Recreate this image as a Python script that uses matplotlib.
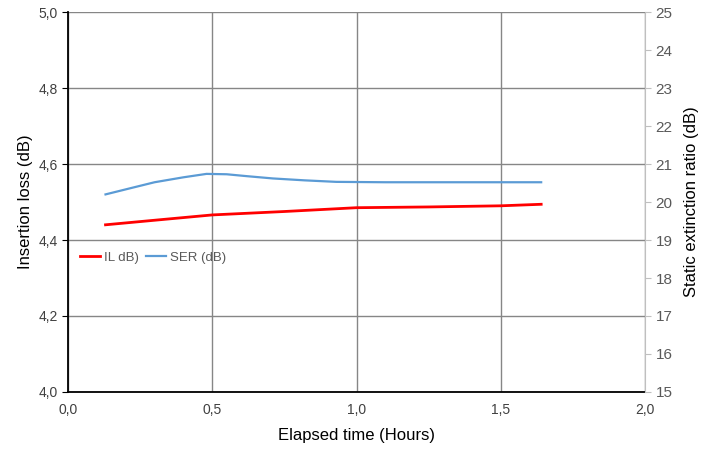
import matplotlib.pyplot as plt
from matplotlib.ticker import FuncFormatter

# IL series (left axis)
il_t = [0.13, 0.3, 0.5, 0.75, 1.0, 1.25, 1.5, 1.64]
il_db = [4.440, 4.452, 4.466, 4.475, 4.485, 4.487, 4.490, 4.494]

# SER series (right axis)
ser_t = [0.13, 0.22, 0.3, 0.4, 0.48, 0.55, 0.62, 0.71, 0.82, 0.93, 1.1, 1.3, 1.5, 1.64]
ser_db = [20.20, 20.37, 20.52, 20.65, 20.74, 20.73, 20.68, 20.62, 20.57, 20.53, 20.52, 20.52, 20.52, 20.52]

plt.rcParams['font.family'] = ['Liberation Sans', 'DejaVu Sans']

fig = plt.figure(figsize=(7.22, 4.5), dpi=100)
ax = fig.add_axes([0.0942, 0.1289, 0.7992, 0.8444])
ax2 = ax.twinx()

ax.plot(il_t, il_db, color='#ff0000', lw=2.0, label='IL dB)')
ax2.plot(ser_t, ser_db, color='#5b9bd5', lw=1.6, label='SER (dB)')

ax.set_xlim(0, 2.0)
ax.set_ylim(4.0, 5.0)
ax2.set_ylim(15, 25)
ax.set_xticks([0, 0.5, 1.0, 1.5, 2.0])
ax.set_yticks([4.0, 4.2, 4.4, 4.6, 4.8, 5.0])
ax2.set_yticks(range(15, 26))

comma = FuncFormatter(lambda v, p: f'{v:.1f}'.replace('.', ','))
ax.xaxis.set_major_formatter(comma)
ax.yaxis.set_major_formatter(comma)

ax.grid(True, color='#868686', lw=1.0)
ax.set_axisbelow(True)

for s in ['top', 'right']:
    ax.spines[s].set_visible(False)
for s in ['top', 'left', 'bottom']:
    ax2.spines[s].set_visible(False)
ax2.spines['right'].set_color('#bfbfbf')
ax.spines['left'].set_linewidth(1.3)
ax.spines['bottom'].set_linewidth(1.3)

ax.tick_params(axis='both', labelsize=10, colors='black', labelcolor='#404040', length=4)
ax.tick_params(axis='x', length=0, pad=8)
ax2.tick_params(axis='y', labelsize=11, colors='#bfbfbf', labelcolor='#595959', length=4)

ax.set_xlabel('Elapsed time (Hours)', fontsize=12, labelpad=8)
ax.set_ylabel('Insertion loss (dB)', fontsize=12)
ax2.set_ylabel('Static extinction ratio (dB)', fontsize=12, labelpad=8)

h1, l1 = ax.get_legend_handles_labels()
h2, l2 = ax2.get_legend_handles_labels()
ax.legend(h1 + h2, l1 + l2, loc='upper left', bbox_to_anchor=(0.0, 0.4),
          ncol=2, frameon=False, fontsize=9.5, labelcolor='#595959',
          handlelength=1.5, handletextpad=0.3, columnspacing=0.6)

fig.savefig('out.png', dpi=100)
